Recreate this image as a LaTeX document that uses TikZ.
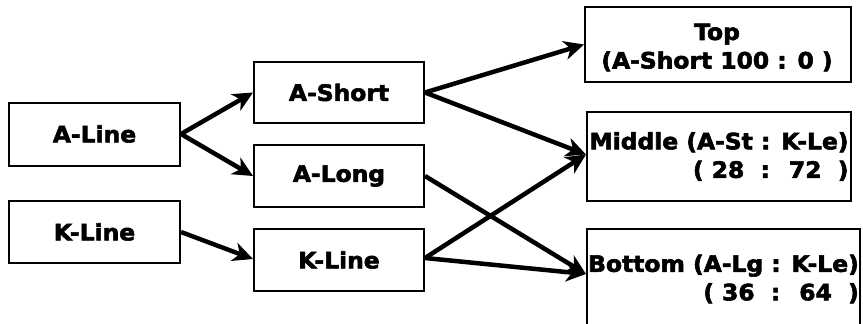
\documentclass[tikz,border=0pt]{standalone}
\usepackage{fontspec}
\setmainfont{DejaVu Sans}[BoldFont={DejaVu Sans Bold},BoldFeatures={FakeStretch=1.04,FakeBold=2.6}]
\usetikzlibrary{arrows.meta}
\begin{document}
\begin{tikzpicture}[x=1pt,y=-1pt,
  box/.style={draw,line width=2pt,inner sep=0pt,font=\fontsize{22.5}{28.5}\selectfont\bfseries},
  flow/.style={line width=4.5pt,-{Stealth[length=20pt,width=19pt,inset=6pt]}}]
\useasboundingbox (0,0) rectangle (863,324);
\clip (0,0) rectangle (863,324);
% source lines
\node[box,minimum width=171,minimum height=63] (aline) at (94.5,134) {A-Line};
\node[box,minimum width=171,minimum height=62] (kline) at (94.5,232) {K-Line};
% split products
\node[box,minimum width=170,minimum height=61] (ashort) at (339,92.5) {A-Short};
\node[box,minimum width=170,minimum height=62] (along) at (339,176) {A-Long};
\node[box,minimum width=170,minimum height=62] (kmid) at (339,260) {K-Line};
% blended outputs
\node[box,minimum width=266,minimum height=75,align=center] (top) at (718,44.5) {};
\node[font=\fontsize{22.5}{28.5}\selectfont\bfseries,align=center,inner sep=0pt]
  (toptext) at (717,47.5) {Top\\(A-Short 100 : 0 )};
\node[box,minimum width=264,minimum height=89,align=right] (middle) at (719,156.5)
  {Middle (A-St : K-Le)\\( 28 \ : \ 72 \ )};
\node[box,minimum width=273,minimum height=100,align=right] (bottom) at (723.5,279)
  {Bottom (A-Lg : K-Le)\\( 36 \ : \ 64 \ )\hspace{8pt}};
% connectors
\draw[flow] (aline.east) -- (ashort.west);
\draw[flow] (aline.east) -- (along.west);
\draw[flow] (kline.east) -- ([yshift=1pt]kmid.west);
\draw[flow] (ashort.east) -- (top.west);
\draw[flow] (ashort.east) -- ([yshift=2pt]middle.west);
\draw[flow] (along.east) -- ([yshift=5pt]bottom.west);
\draw[flow] ([yshift=2pt]kmid.east) -- ([yshift=2pt]middle.west);
\draw[flow] ([yshift=2pt]kmid.east) -- ([yshift=5pt]bottom.west);
\end{tikzpicture}
\end{document}
